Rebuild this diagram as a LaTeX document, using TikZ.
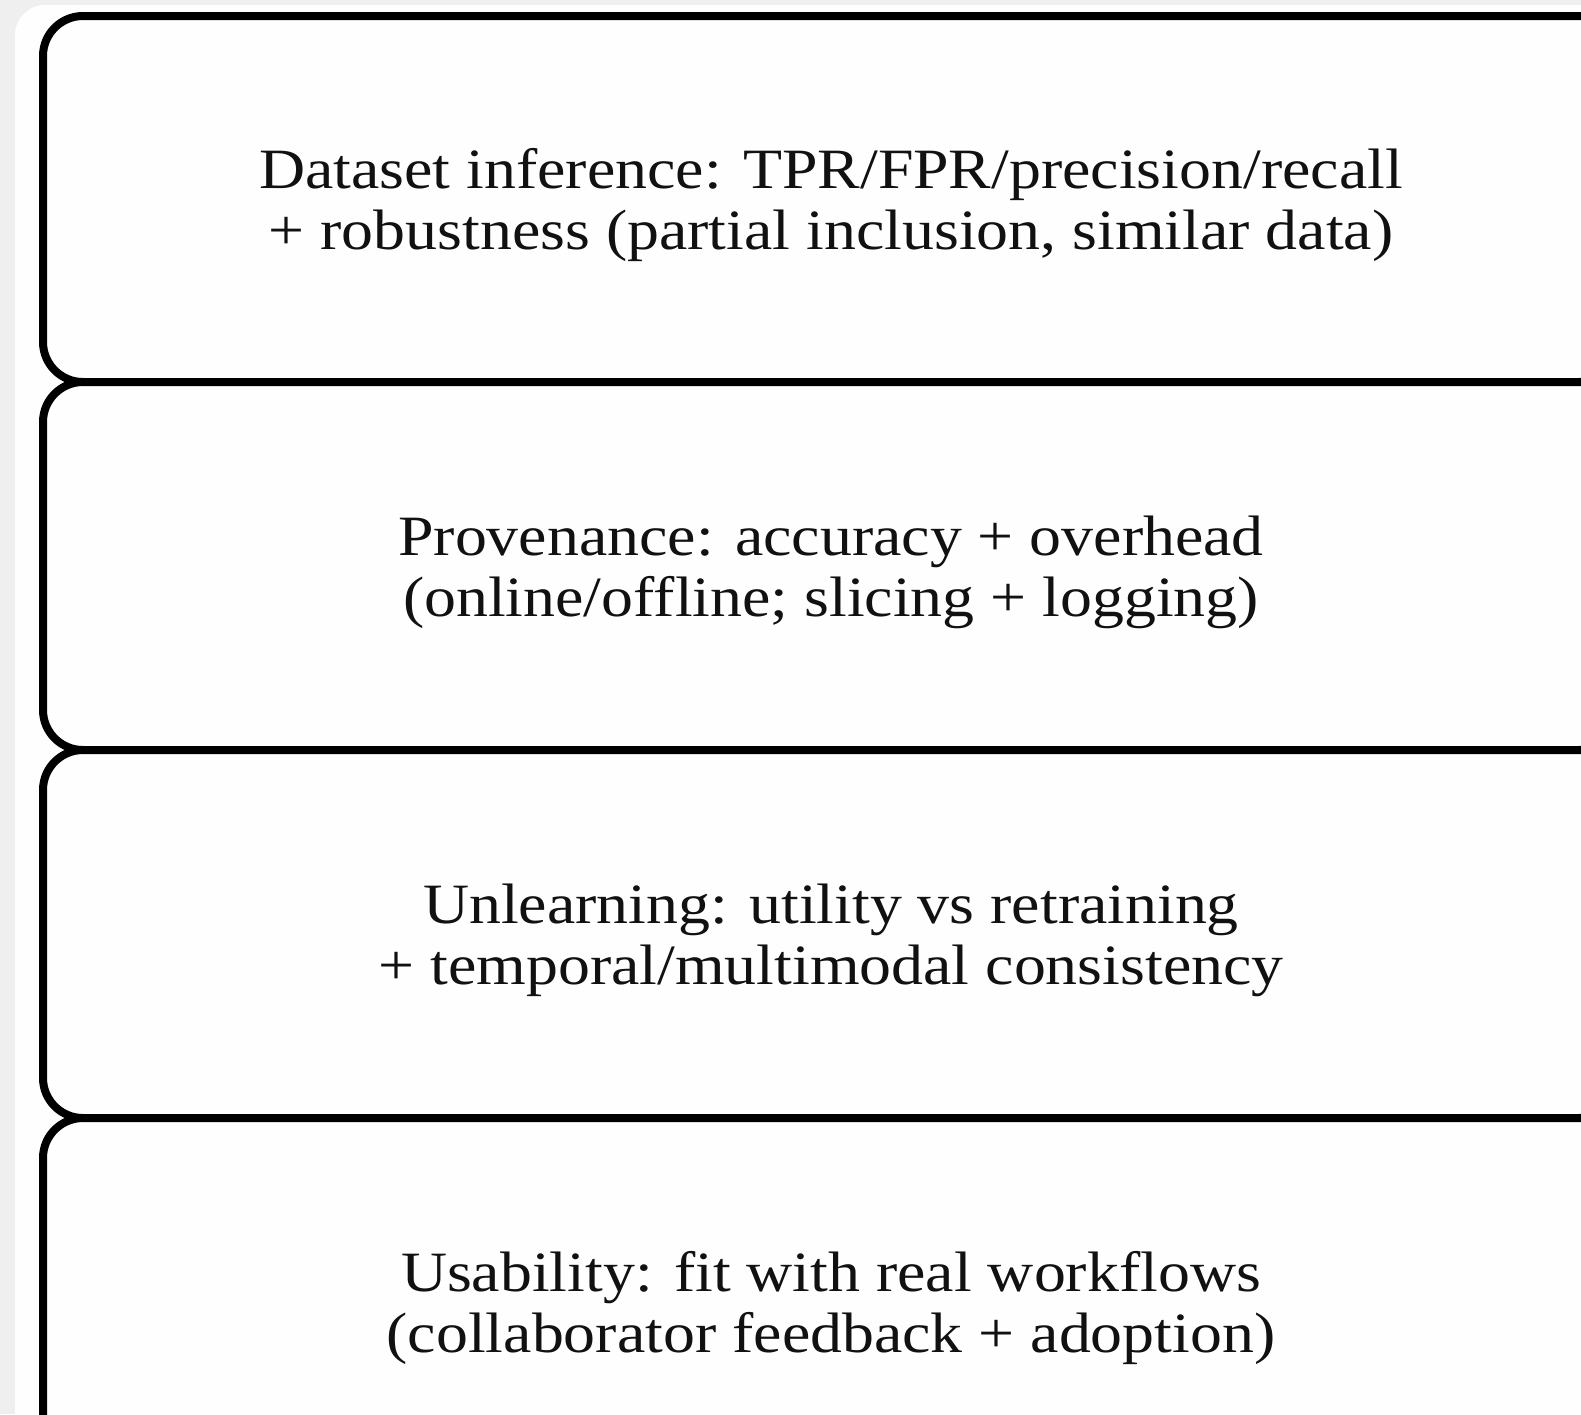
\documentclass[tikz,border=0pt]{standalone}
\usepackage{fontspec}
\setmainfont[FakeStretch=1.12]{Liberation Serif}
\definecolor{pagegray}{RGB}{239,239,239}
\definecolor{cardwhite}{RGB}{254,254,254}
\definecolor{inkblack}{RGB}{17,17,17}
\tikzset{
  panel/.style={draw=black, line width=8pt, rounded corners=40pt, fill=cardwhite,
    minimum width=1576pt, inner sep=0pt, outer sep=0pt},
  caption/.style={align=center, text=inkblack,
    font=\fontsize{57}{61}\selectfont, inner sep=0pt}
}
\begin{document}
\begin{tikzpicture}[x=1pt, y=-1pt]
  \useasboundingbox (0,0) rectangle (1581,1414);
  \clip (0,0) rectangle (1581,1414);
  % page background and white card
  \fill[pagegray] (0,0) rectangle (1581,1414);
  \fill[cardwhite, rounded corners=30pt] (15,5) rectangle (1700,1500);
  % stacked evaluation panels
  \node[panel, minimum height=366pt] (inference) at (831,199) {};
  \node[panel, minimum height=368pt] (provenance) at (831,566) {};
  \node[panel, minimum height=368pt] (unlearning) at (831,934) {};
  \node[panel, minimum height=368pt] (usability) at (831,1302) {};
  % panel captions
  \node[caption] (inferencetext) at ([yshift=-6pt]inference.center)
    {Dataset inference: TPR/FPR/precision/recall\\+ robustness (partial inclusion, similar data)};
  \node[caption] (provenancetext) at ([yshift=-6pt]provenance.center)
    {Provenance: accuracy + overhead\\(online/offline; slicing + logging)};
  \node[caption] (unlearningtext) at ([yshift=-6pt]unlearning.center)
    {Unlearning: utility vs retraining\\+ temporal/multimodal consistency};
  \node[caption] (usabilitytext) at ([yshift=-6pt]usability.center)
    {Usability: fit with real workflows\\(collaborator feedback + adoption)};
\end{tikzpicture}
\end{document}
